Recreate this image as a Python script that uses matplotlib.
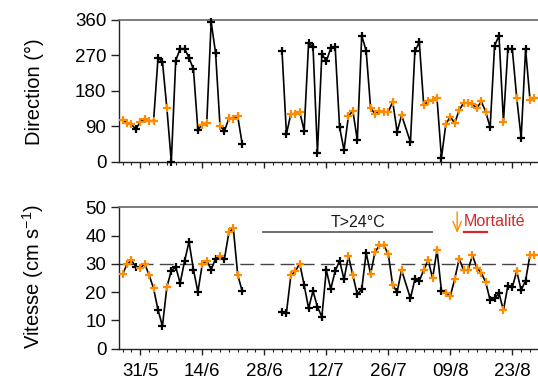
import numpy as np
import pandas as pd
import matplotlib
matplotlib.use("Agg")
import matplotlib.pyplot as plt
import matplotlib.dates as mdates

plt.rcParams["font.family"] = ["Liberation Sans", "DejaVu Sans"]
plt.rcParams["mathtext.fontset"] = "custom"
plt.rcParams["mathtext.rm"] = "Liberation Sans"
plt.rcParams["mathtext.it"] = "Liberation Sans:italic"

# Daily observation dates (no record 24/6-1/7 nor 30/7)
dates_spring = pd.date_range("2003-05-27", "2003-06-23")
dates_summer = pd.date_range("2003-07-02", "2003-08-28").drop(pd.Timestamp("2003-07-30"))
dates = dates_spring.append(dates_summer)

# Current direction (degrees)
direction_spring = [106, 99, 95, 82, 102, 109, 104, 104, 264, 254, 136, 0, 257, 287,
                    287, 264, 235, 81, 94, 98, 355, 276, 91, 78, 110, 109, 115, 46]
direction_summer = [281, 70, 122, 121, 126, 79, 301, 292, 23, 274, 255, 288, 292, 87,
                    30, 116, 129, 55, 320, 282, 137, 121, 129, 126, 127, 152, 76, 118,
                    50, 280, 304, 143, 154, 157, 161, 10, 96, 114, 98, 131, 149, 149,
                    146, 136, 153, 127, 87, 295, 320, 102, 286, 286, 162, 60, 286, 157, 161]

# Current speed (cm/s)
speed_spring = [26.3, 29.9, 31.2, 29.0, 28.5, 30.0, 26.0, 21.3, 13.7, 8.0, 21.8, 27.6,
                28.9, 23.2, 31.0, 37.8, 28.0, 20.1, 29.9, 31.1, 28.0, 31.8, 32.9, 31.8,
                41.1, 42.6, 26.1, 20.4]
speed_summer = [13.1, 12.7, 25.9, 27.4, 30.1, 22.5, 14.3, 20.4, 14.8, 11.3, 27.8, 21.1,
                27.4, 31.1, 24.5, 32.8, 25.9, 19.2, 21.0, 33.9, 26.4, 34.2, 36.5, 36.5,
                33.4, 22.4, 20.1, 27.8, 17.8, 24.5, 24.0, 27.8, 31.3, 24.9, 34.9, 20.5,
                19.8, 18.6, 24.6, 31.8, 27.8, 27.8, 33.0, 28.6, 26.8, 23.5, 17.1, 17.9,
                19.6, 13.6, 22.3, 21.7, 27.4, 20.7, 24.1, 33.2, 33.2]

direction_ticks = [0, 90, 180, 270, 360]
speed_ticks = [0, 10, 20, 30, 40, 50]
speed_threshold = 30
date_ticks = ["2003-05-31", "2003-06-14", "2003-06-28", "2003-07-12",
              "2003-07-26", "2003-08-09", "2003-08-23"]
date_tick_labels = ["31/5", "14/6", "28/6", "12/7", "26/7", "09/8", "23/8"]

warm_period = ("2003-06-28", "2003-08-05")
mortality_period = ("2003-08-12", "2003-08-17")
mortality_onset = "2003-08-11"

ORANGE = "#FF8C00"
RED = "#D02A2A"

x = mdates.date2num(dates)
d = np.array(direction_spring + direction_summer, float)
v = np.array(speed_spring + speed_summer, float)
sector = (d >= 90) & (d <= 180)

# split the series where days are missing for more than a couple of days
breaks = np.where(np.diff(x) > 3)[0] + 1
segments = np.split(np.arange(len(x)), breaks)

W, H = 538, 390
fig = plt.figure(figsize=(W / 100, H / 100), dpi=100)
ax1 = fig.add_axes([119 / W, 1 - 161.7 / H, 419 / W, 141.7 / H])
ax2 = fig.add_axes([119 / W, 1 - 348.7 / H, 419 / W, 141.4 / H])

t0 = mdates.date2num(pd.Timestamp(date_ticks[0]))
px_per_day = 62 / 14
xmin = t0 - 21.3 / px_per_day
xmax = xmin + 419 / px_per_day
major = mdates.date2num(pd.to_datetime(date_ticks))
minor = np.arange(t0 - 4, xmax, 2)

for ax, y in ((ax1, d), (ax2, v)):
    for s in segments:
        ax.plot(x[s], y[s], color="black", lw=1.2, zorder=2, clip_on=False)
    ax.plot(x[~sector], y[~sector], ls="none", marker="+", color="black",
            ms=5.5, mew=1.6, zorder=3, clip_on=False)
    ax.plot(x[sector], y[sector], ls="none", marker="+", color=ORANGE,
            ms=5.5, mew=1.6, zorder=3, clip_on=False)
    ax.set_xlim(xmin, xmax)
    ax.set_xticks(major)
    ax.set_xticks(minor, minor=True)
    ax.spines["right"].set_visible(False)
    ax.spines["top"].set_color("#666666")
    ax.spines["top"].set_linewidth(1.2)
    for side in ("left", "bottom"):
        ax.spines[side].set_color("#222222")
        ax.spines[side].set_linewidth(1.0)
    ax.tick_params(axis="y", direction="out", length=6, width=1, color="#222222",
                   labelsize=13.5, pad=3)
    ax.tick_params(axis="x", which="major", direction="out", length=4.5, width=1,
                   color="#222222", labelsize=13.5, pad=6)
    ax.tick_params(axis="x", which="minor", direction="out", length=2.2, width=0.8,
                   color="#222222")

ax1.set_ylim(0, 360)
ax1.set_yticks(direction_ticks)
ax1.tick_params(axis="x", labelbottom=False)

ax2.set_ylim(0, 50)
ax2.set_yticks(speed_ticks)
ax2.set_xticklabels(date_tick_labels)
ax2.axhline(speed_threshold, color="#444444", lw=1.0, ls=(0, (10, 4.5)), zorder=1)

# warm water period
w0, w1 = mdates.date2num(pd.to_datetime(warm_period))
ax2.plot([w0 - 0.2, w1 - 0.15], [41.1, 41.1], color="#6e6e6e", lw=1.4, zorder=1)
ax2.text(w0 + 21.2, 44.8, "T>24°C", ha="center", va="center", fontsize=11.5,
         color="#1a1a1a")

# mortality event
m0, m1 = mdates.date2num(pd.to_datetime(mortality_period))
ax2.plot([m0 + 0.1, m1 + 0.3], [41.1, 41.1], color=RED, lw=1.6, zorder=1)
ax2.text(m0 + 0.1, 44.9, "Mortalité", ha="left", va="center", fontsize=11.5,
         color=RED)
onset = mdates.date2num(pd.Timestamp(mortality_onset))
ax2.annotate("", xy=(onset - 0.45, 40.9), xytext=(onset - 0.45, 48.4),
             arrowprops=dict(arrowstyle="->,head_length=0.7,head_width=0.3",
                             color=ORANGE, lw=1.0, shrinkA=0, shrinkB=0,
                             mutation_scale=10))

fig.text(34 / W, 1 - 92 / H, "Direction (°)", rotation=90, ha="center",
         va="center", fontsize=14.5)
fig.text(33 / W, 1 - 277 / H, "Vitesse (cm s$^{-1}$)", rotation=90, ha="center",
         va="center", fontsize=14.5)

fig.savefig("out.png", dpi=100)
